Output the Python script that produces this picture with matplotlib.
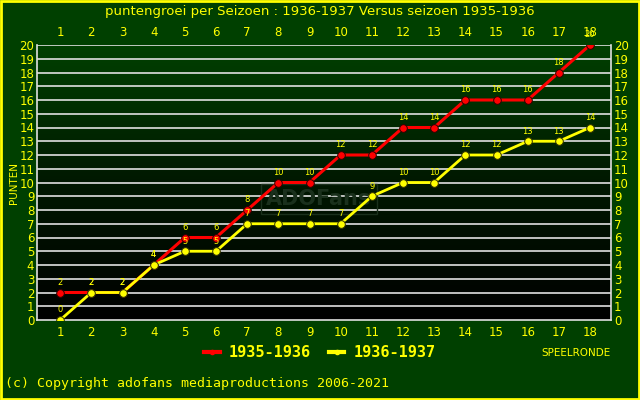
import numpy as np
import matplotlib
matplotlib.use("Agg")
import matplotlib.pyplot as plt
from matplotlib.colors import LinearSegmentedColormap
from matplotlib.lines import Line2D

# speelrondes en punten
rondes = list(range(1, 19))
punten_1935 = [2, 2, 2, 4, 6, 6, 8, 10, 10, 12, 12, 14, 14, 16, 16, 16, 18, 20]
punten_1936 = [0, 2, 2, 4, 5, 5, 7, 7, 7, 7, 9, 10, 10, 12, 12, 13, 13, 14]
y_ticks = list(range(0, 21))

BG = "#004000"
YEL = "#ffff00"
RED = "#ff0000"

fig = plt.figure(figsize=(6.4, 4.0), dpi=100, facecolor=BG)
# gele rand
fig.patches.append(plt.Rectangle((0.0015, 0.0025), 0.997, 0.995, transform=fig.transFigure,
                                 fill=False, edgecolor=YEL, linewidth=2))

ax = fig.add_axes([0.058, 0.2, 0.897, 0.6875])
ax.set_xlim(0.26, 18.68)
ax.set_ylim(0, 20)

# achtergrond verloop groen -> zwart
cmap = LinearSegmentedColormap.from_list("bg", ["#000000", "#001800", "#004000"])
grad = np.linspace(0, 1, 256).reshape(-1, 1)
ax.imshow(grad, cmap=cmap, aspect="auto", extent=(0.26, 18.68, 0, 20),
          origin="lower", zorder=0)

for y in y_ticks[1:]:
    ax.axhline(y, color="#e0e0e0", lw=1.2, zorder=1)

for k in ("left", "bottom", "right"):
    ax.spines[k].set_color("#e0e0e0")
    ax.spines[k].set_linewidth(1.2)
ax.spines["top"].set_visible(False)

# watermerk (heel vaag)
ax.text(9.3, 8.8, "ADOFans", fontsize=15, fontweight="bold", color="#1a301c",
        ha="center", va="center", zorder=1,
        bbox=dict(boxstyle="square,pad=0.25", facecolor="none", edgecolor="#1a301c", lw=1.0))

ax.plot(rondes, punten_1935, color=RED, lw=2.2, marker="o", ms=5.5,
        markerfacecolor=RED, markeredgecolor="#300000", mew=0.7, zorder=3)
ax.plot(rondes, punten_1936, color=YEL, lw=2.0, marker="o", ms=5.5,
        markerfacecolor=YEL, markeredgecolor="#303000", mew=0.7, zorder=4)

for x, y in zip(rondes, punten_1935):
    ax.annotate(str(y), (x, y), xytext=(0, 4), textcoords="offset points",
                ha="center", va="bottom", fontsize=6, color=YEL, zorder=5)
for x, y in zip(rondes, punten_1936):
    ax.annotate(str(y), (x, y), xytext=(0, 4), textcoords="offset points",
                ha="center", va="bottom", fontsize=6, color=YEL, zorder=5)

ax.set_xticks(rondes)
ax.set_yticks(y_ticks)
ax.tick_params(axis="both", colors=YEL, labelsize=8.5, length=0, pad=3)
ax.tick_params(axis="x", labeltop=True, top=False, pad=4)
ax.tick_params(axis="y", labelright=True, right=False, pad=2)

ax.set_ylabel("PUNTEN", color=YEL, fontsize=7.5)
ax.yaxis.set_label_coords(-0.031, 0.5)

fig.text(0.5, 0.97, "puntengroei per Seizoen : 1936-1937 Versus seizoen 1935-1936",
         ha="center", va="center", color=YEL, fontsize=9.5)

# legenda
leg_1935 = Line2D([0], [0], color=RED, lw=3, marker="o", ms=3, markerfacecolor=RED)
leg_1936 = Line2D([0], [0], color=YEL, lw=3, marker="o", ms=3, markerfacecolor=YEL)
leg = fig.legend(handles=[leg_1935, leg_1936], labels=["1935-1936", "1936-1937"],
                 loc="center", bbox_to_anchor=(0.5, 0.118), ncol=2, frameon=False,
                 handlelength=1.0, handletextpad=0.6, columnspacing=1.2,
                 prop={"family": "DejaVu Sans Mono", "weight": "bold", "size": 11})
for t in leg.get_texts():
    t.set_color(YEL)

fig.text(0.954, 0.118, "SPEELRONDE", ha="right", va="center", color=YEL, fontsize=7.5)
fig.text(0.008, 0.04, "(c) Copyright adofans mediaproductions 2006-2021",
         ha="left", va="center", color=YEL, fontsize=9.5, family="DejaVu Sans Mono")

fig.savefig("out.png", dpi=100, facecolor=BG)
